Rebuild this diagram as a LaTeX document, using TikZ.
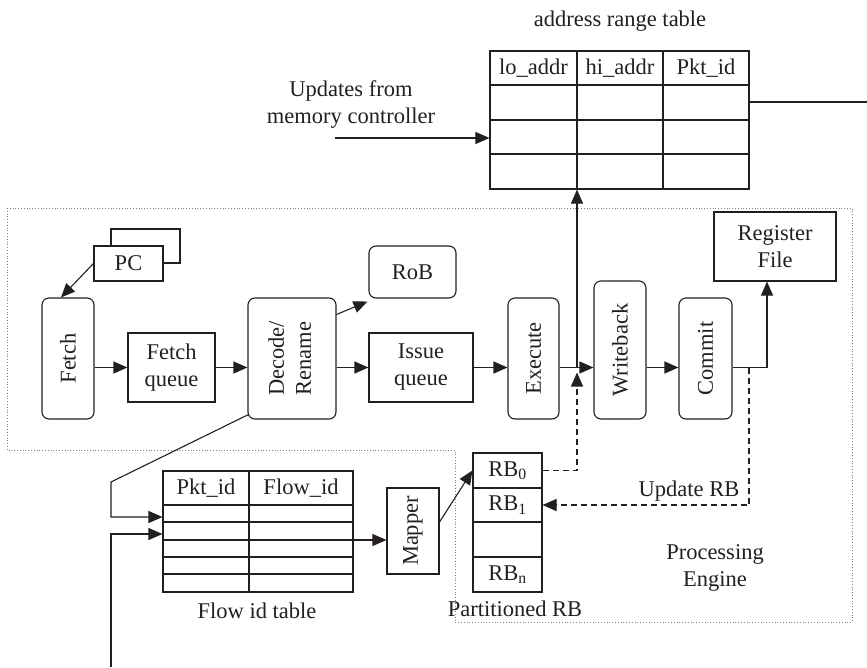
\documentclass[tikz,border=0pt]{standalone}
\usepackage{fontspec}
\setmainfont{Liberation Serif}
\usetikzlibrary{arrows.meta,calc}
\definecolor{ink}{HTML}{231F20}
\begin{document}
\begin{tikzpicture}[x=1pt,y=-1pt,
  every node/.style={font=\fontsize{22.5}{27}\selectfont, text=ink},
  box/.style={draw=ink, line width=1.1pt, inner sep=0pt, align=center},
  rbox/.style={box, rounded corners=7pt},
  ln/.style={draw=ink, line width=1.1pt},
  arr/.style={ln, -{Triangle[length=14pt,width=12pt]}},
  darr/.style={arr, dash pattern=on 6pt off 4pt},
  pe/.style={draw=gray, line width=0.8pt, dotted}]
\useasboundingbox (0,0) rectangle (867,667);

% processing engine outline
\draw[pe] (7,208) -- (852,208) -- (852,622) -- (455,622) -- (455,450) -- (7,450) -- cycle;

% address range table
\node (attitle) at (620,21) {address range table};
\node[box, minimum width=259pt, minimum height=138pt] (at) at (619.5,120) {};
\draw[ln] (490,85) -- (749,85);
\draw[ln] (490,120) -- (749,120);
\draw[ln] (490,154) -- (749,154);
\draw[ln] (577,51) -- (577,189);
\draw[ln] (663,51) -- (663,189);
\node (h1) at (533.5,68) {lo\_addr};
\node (h2) at (620,68) {hi\_addr};
\node (h3) at (706,68) {Pkt\_id};

% updates from memory controller
\node[align=center] (updtxt) at (351,104.5) {Updates from\\memory controller};
\coordinate (updst) at (335,138);
\draw[arr] (updst) -- (updst -| at.west);
\coordinate (atr) at (749,102);
\coordinate (edge) at (867,102);
\draw[ln] (atr) -- (edge);

% pipeline
\node[box, fill=white, minimum width=69pt, minimum height=34pt] (pcb) at (145.5,246) {};
\node[box, fill=white, minimum width=69pt, minimum height=35pt] (pc) at (128.5,263.5) {PC};
\node[rbox, minimum width=52pt, minimum height=121pt] (fetch) at (68,358.5) {\rotatebox{90}{Fetch}};
\node[box, minimum width=87pt, minimum height=69pt] (fq) at (171.5,367.5) {Fetch\\queue};
\node[rbox, minimum width=88pt, minimum height=121pt] (dec) at (292,358.5) {\rotatebox{90}{\begin{tabular}{@{}c@{}}Decode/\\Rename\end{tabular}}};
\node[rbox, minimum width=87pt, minimum height=52pt] (rob) at (412.5,272) {RoB};
\node[box, minimum width=104pt, minimum height=69pt] (iq) at (421,367.5) {Issue\\queue};
\node[rbox, minimum width=51pt, minimum height=121pt] (ex) at (533.5,358.5) {\rotatebox{90}{Execute}};
\node[rbox, minimum width=52pt, minimum height=138pt] (wb) at (620,350) {\rotatebox{90}{Writeback}};
\node[rbox, minimum width=53pt, minimum height=121pt] (cm) at (705.5,358.5) {\rotatebox{90}{Commit}};
\node[box, minimum width=122pt, minimum height=69pt] (rf) at (775,246.5) {Register\\File};

\draw[arr] (pc.west) -- ([xshift=-7pt]fetch.north);
\draw[arr] (fetch.east |- fq.west) -- (fq.west);
\draw[arr] (fq.east) -- (dec.west |- fq.east);
\draw[arr] (dec.east |- iq.west) -- (iq.west);
\draw[arr] ([yshift=-17pt]dec.north east) -- ([shift={(-1,3)}]rob.south west);
\draw[arr] (iq.east) -- (ex.west |- iq.east);
\draw[arr] (ex.east |- iq.east) -- (wb.west |- iq.east);
\draw[arr] (wb.east |- iq.east) -- (cm.west |- iq.east);
\draw[arr] (cm.east |- iq.east) -| ([xshift=-8pt]rf.south);
\coordinate (j) at (577,367.5);
\draw[arr] (j) -- (j |- at.south);

% flow id table
\node[box, minimum width=190pt, minimum height=121pt] (ft) at (258,531.5) {};
\draw[ln] (163,505) -- (353,505);
\draw[ln] (163,522) -- (353,522);
\draw[ln] (163,540) -- (353,540);
\draw[ln] (163,557) -- (353,557);
\draw[ln] (163,574) -- (353,574);
\draw[ln] (249,471) -- (249,592);
\node (f1) at (206,488) {Pkt\_id};
\node (f2) at (301,488) {Flow\_id};
\node (fttitle) at (257,611) {Flow id table};

\draw[arr] ([shift={(1,-5)}]dec.south west) -- (111,482) -- (111,517) -- ([yshift=14.5pt]ft.west);
\coordinate (ext) at (111,667);
\draw[arr] (ext) |- ([yshift=-2.5pt]ft.west);

% mapper
\node[box, minimum width=52pt, minimum height=86pt] (mp) at (413,531) {\rotatebox{90}{Mapper}};
\coordinate (ftm) at ([yshift=-8.5pt]ft.east);
\draw[arr] (ftm) -- (ftm -| mp.west);

% partitioned RB
\node[box, minimum width=69pt, minimum height=35pt] (rb0) at (507.5,470.5) {RB\textsubscript{0}};
\node[box, minimum width=69pt, minimum height=34pt] (rb1) at (507.5,505) {RB\textsubscript{1}};
\node[box, minimum width=69pt, minimum height=35pt] (rb2) at (507.5,539.5) {};
\node[box, minimum width=69pt, minimum height=35pt] (rbn) at (507.5,574.5) {RB\textsubscript{n}};
\node (rbtitle) at (515,609) {Partitioned RB};
\draw[arr] ([yshift=9pt]mp.east) -- (rb0.west);

% dashed connectors
\draw[darr] (rb0.east) -| ([yshift=-5pt]j);
\coordinate (cmd) at (749,367.5);
\draw[darr] (cmd) |- (rb1.east);
\node (updrb) at (689,491) {Update RB};

\node[align=center] (petitle) at (715,568) {Processing\\Engine};
\end{tikzpicture}
\end{document}
